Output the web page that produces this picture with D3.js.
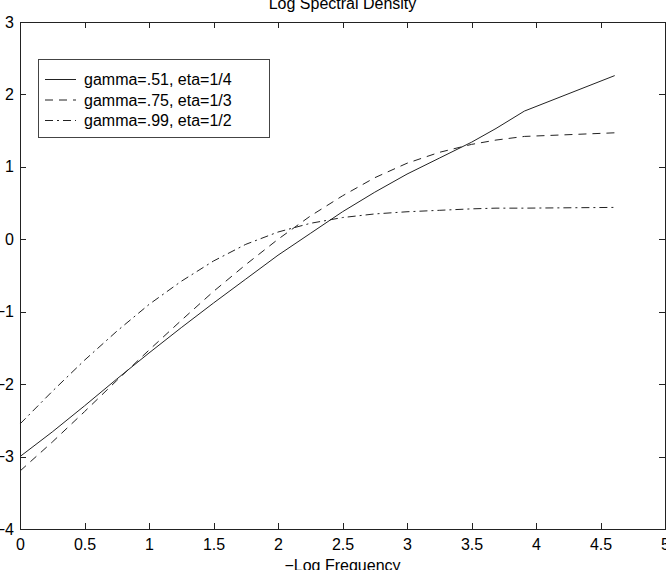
<!DOCTYPE html>
<html lang="en">

<head>
    <meta charset="UTF-8">
    <title>Log Spectral Density</title>
    <style>
        body {
            margin: 0;
            background: #fff;
            font-family: 'Liberation Sans', Arial, Helvetica, sans-serif;
        }

        svg text {
            font-size: 16px;
            fill: #000;
        }

        .axis path,
        .axis line {
            stroke: #222;
            shape-rendering: crispEdges;
        }

        .curve {
            fill: none;
            stroke: #222;
            stroke-width: 1;
        }
    </style>
</head>

<body>
    <div id='chart'></div>
</body>

</html>
<script src="https://cdnjs.cloudflare.com/ajax/libs/d3/7.8.5/d3.min.js"></script>
<script>
    // x positions (-log frequency) and the three curves
    const logFreq = [0, 0.25, 0.5, 0.75, 1.0, 1.25, 1.5, 1.75, 2.0, 2.25, 2.5, 2.75, 3.0, 3.25, 3.5, 3.69, 3.91, 4.61];
    const gamma51 = [-3.0, -2.66, -2.3, -1.93, -1.57, -1.22, -0.88, -0.55, -0.22, 0.08, 0.38, 0.65, 0.9, 1.12, 1.34, 1.53, 1.77, 2.26];
    const gamma75 = [-3.2, -2.8, -2.38, -1.95, -1.53, -1.12, -0.72, -0.35, 0.0, 0.32, 0.6, 0.85, 1.05, 1.2, 1.31, 1.37, 1.42, 1.47];
    const gamma99 = [-2.55, -2.1, -1.67, -1.27, -0.9, -0.58, -0.3, -0.07, 0.1, 0.22, 0.3, 0.35, 0.38, 0.4, 0.42, 0.43, 0.43, 0.44];
    const seriesLabels = ['gamma=.51, eta=1/4', 'gamma=.75, eta=1/3', 'gamma=.99, eta=1/2'];
    const xTicks = [0, 0.5, 1, 1.5, 2, 2.5, 3, 3.5, 4, 4.5, 5];
    const yTicks = [-4, -3, -2, -1, 0, 1, 2, 3];

    const W = 666, H = 570;
    const box = { left: 20, right: 665, top: 22, bottom: 529 };
    const dashes = [null, '8,6', '8,4,2,4'];

    const svg = d3.select('#chart').append('svg')
        .attr('width', W)
        .attr('height', H);

    const x = d3.scaleLinear().domain([0, 5]).range([box.left, box.right]);
    const y = d3.scaleLinear().domain([-4, 3]).range([box.bottom, box.top]);

    // 座標框
    svg.append('rect')
        .attr('x', box.left).attr('y', box.top)
        .attr('width', box.right - box.left).attr('height', box.bottom - box.top)
        .attr('fill', 'none').attr('stroke', '#222')
        .attr('shape-rendering', 'crispEdges');

    // 刻度 (MATLAB style, pointing inward on all four sides)
    svg.append('g').attr('class', 'axis')
        .attr('transform', 'translate(0,' + box.bottom + ')')
        .call(d3.axisBottom(x).tickValues(xTicks).tickSizeInner(-6).tickSizeOuter(0).tickPadding(10).tickFormat(d3.format('')));
    svg.append('g').attr('class', 'axis')
        .attr('transform', 'translate(0,' + box.top + ')')
        .call(d3.axisTop(x).tickValues(xTicks).tickSizeInner(-6).tickSizeOuter(0).tickFormat(''));
    svg.append('g').attr('class', 'axis')
        .attr('transform', 'translate(' + box.left + ',0)')
        .call(d3.axisLeft(y).tickValues(yTicks).tickSizeInner(-6).tickSizeOuter(0).tickPadding(6).tickFormat(d3.format('')));
    svg.append('g').attr('class', 'axis')
        .attr('transform', 'translate(' + box.right + ',0)')
        .call(d3.axisRight(y).tickValues(yTicks).tickSizeInner(-6).tickSizeOuter(0).tickFormat(''));

    svg.selectAll('.axis').attr('font-family', null).attr('font-size', null);

    // curves
    const series = [gamma51, gamma75, gamma99];
    const line = d3.line()
        .x(function (d, i) { return x(logFreq[i]); })
        .y(function (d) { return y(d); });

    svg.selectAll('.curve')
        .data(series)
        .enter().append('path')
        .attr('class', 'curve')
        .attr('stroke-dasharray', function (d, i) { return dashes[i]; })
        .attr('d', line);

    // title and axis label
    svg.append('text')
        .attr('x', (box.left + box.right) / 2).attr('y', 9)
        .attr('text-anchor', 'middle')
        .text('Log Spectral Density');
    svg.append('text')
        .attr('x', (box.left + box.right) / 2).attr('y', 571)
        .attr('text-anchor', 'middle')
        .text('\u2212Log Frequency');

    // legend
    const legend = svg.append('g');
    legend.append('rect')
        .attr('x', 38.5).attr('y', 59.5)
        .attr('width', 231).attr('height', 78)
        .attr('fill', '#fff').attr('stroke', '#444');
    const rows = legend.selectAll('.row')
        .data(seriesLabels)
        .enter().append('g')
        .attr('transform', function (d, i) { return 'translate(0,' + (79.5 + i * 20.5) + ')'; });
    rows.append('line')
        .attr('class', 'curve')
        .attr('x1', 45).attr('x2', 76)
        .attr('stroke-dasharray', function (d, i) { return dashes[i]; });
    rows.append('text')
        .attr('x', 84).attr('y', 5.5)
        .text(function (d) { return d; });
</script>
